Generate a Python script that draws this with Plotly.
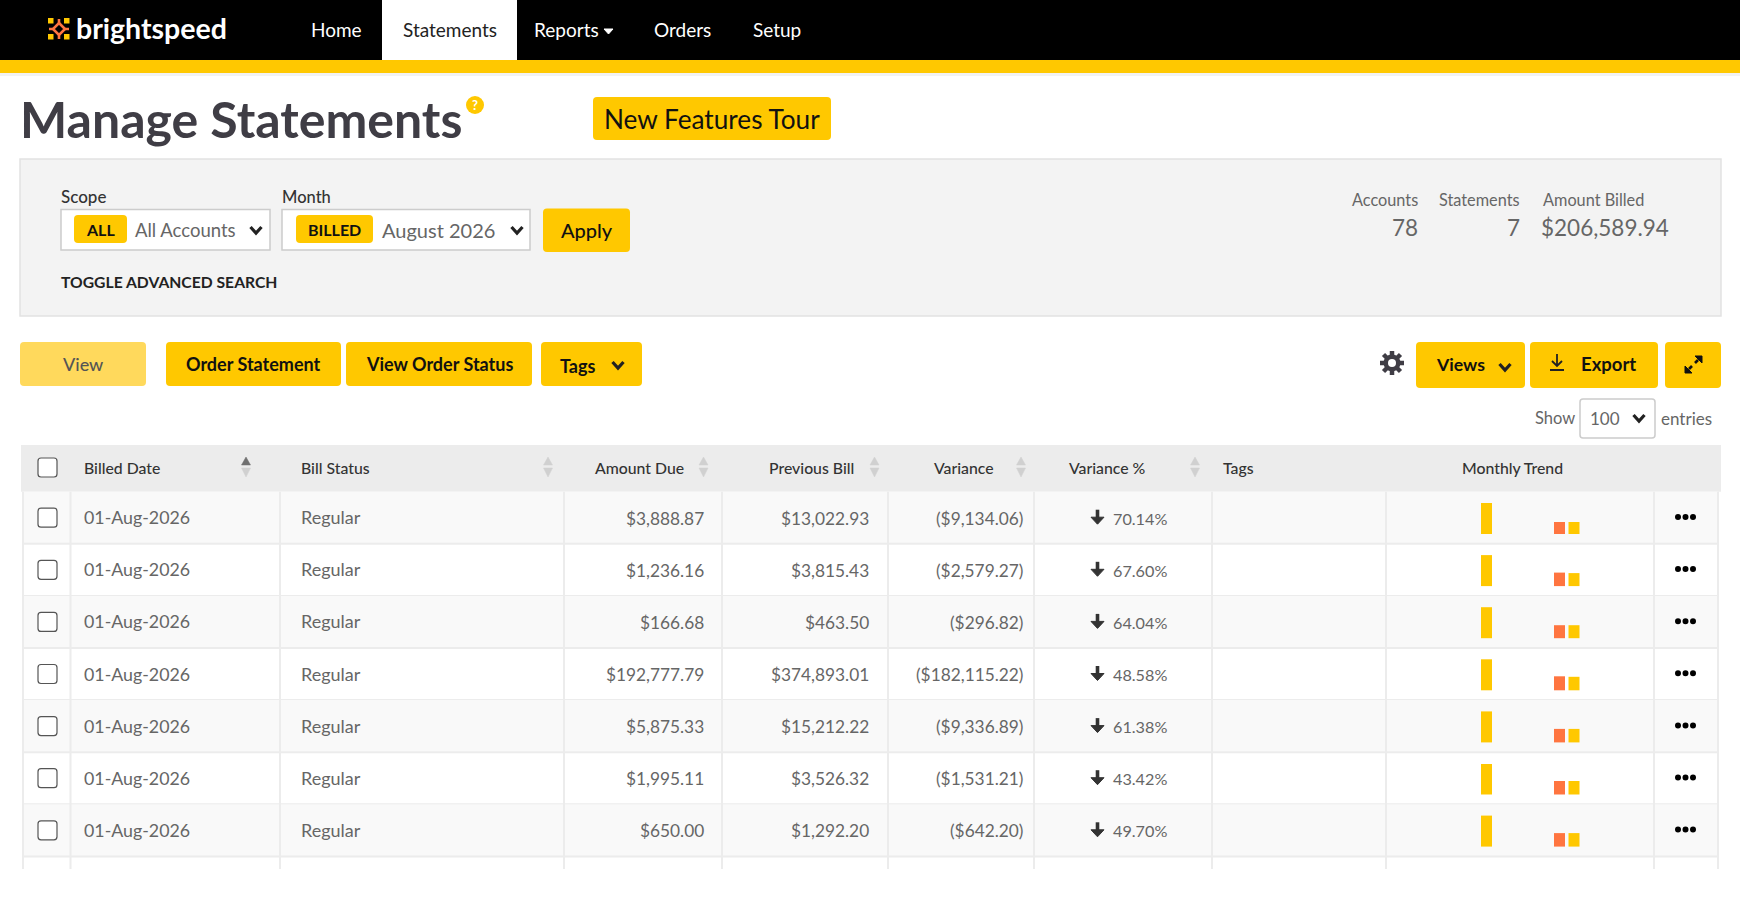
"""Manage Statements page, drawn on one pixel-sized Plotly axis."""

import plotly.graph_objects as go

# table data
billed_dates = ["01-Aug-2026"] * 7
bill_status = ["Regular"] * 7
amount_due = ["$3,888.87", "$1,236.16", "$166.68", "$192,777.79", "$5,875.33", "$1,995.11", "$650.00"]
previous_bill = ["$13,022.93", "$3,815.43", "$463.50", "$374,893.01", "$15,212.22", "$3,526.32", "$1,292.20"]
variance = ["($9,134.06)", "($2,579.27)", "($296.82)", "($182,115.22)", "($9,336.89)", "($1,531.21)", "($642.20)"]
variance_pct = ["70.14%", "67.60%", "64.04%", "48.58%", "61.38%", "43.42%", "49.70%"]

# monthly trend bars
trend_first = [31, 31, 31, 31, 31, 30.5, 31]
trend_second = [12, 13.5, 13, 14, 13.5, 13.5, 13.5]
trend_third = [12, 13, 13, 13.5, 13.5, 13.5, 13.5]

nav_labels = ["Home", "Statements", "Reports", "Orders", "Setup"]
summary_labels = ["Accounts", "Statements", "Amount Billed"]
summary_values = ["78", "7", "$206,589.94"]

YELLOW = "#ffc800"
ORANGE = "#ff7540"
DARK = "#3f3d45"
GREY_TEXT = "#666666"
FONT = "Lato"

W, H = 1740, 904
HEAD_TOP, HEAD_BOTTOM = 445, 491.7
ROW_H = 52.1
COL_LINES = [23, 70.5, 280, 564, 722, 888, 1034, 1212, 1386, 1654, 1718]

shapes = []
notes = []


def rect(x0, y0, x1, y1, fill, line=None, r=0, width=1):
    # rounded rectangle as an svg path
    path = (
        f"M{x0 + r},{y0} L{x1 - r},{y0} Q{x1},{y0} {x1},{y0 + r} L{x1},{y1 - r} Q{x1},{y1} {x1 - r},{y1} "
        f"L{x0 + r},{y1} Q{x0},{y1} {x0},{y1 - r} L{x0},{y0 + r} Q{x0},{y0} {x0 + r},{y0} Z"
    )
    shapes.append(dict(type="path", path=path, fillcolor=fill, layer="below",
                       line=dict(color=line or fill, width=width if line else 0)))


def stroke(path, color="#000000", width=2.5, fill=None):
    shapes.append(dict(type="path", path=path, layer="above", fillcolor=fill,
                       line=dict(color=color, width=width)))


def chevron(x, y, color="#222222", size=5.5):
    stroke(f"M{x - size},{y - size * 0.55} L{x},{y + size * 0.55} L{x + size},{y - size * 0.55}", color, 3.2)


def text(x, y, s, size=17.3, color=GREY_TEXT, anchor="left", weight=400, family=FONT):
    notes.append(dict(x=x, y=y, xref="x", yref="y", text=s, showarrow=False, xanchor=anchor, yanchor="middle",
                      align=anchor, font=dict(family=family, size=size, color=color, weight=weight),
                      borderpad=0, borderwidth=0))


def button(x0, x1, y0, y1, label=None, size=18, fill=YELLOW, color="#111111", weight=700):
    rect(x0, y0, x1, y1, fill, r=4)
    if label:
        text((x0 + x1) / 2, (y0 + y1) / 2, label, size, color, "center", weight)


# top bar
rect(0, 0, W, 60, "#000000")
rect(0, 60, W, 73, YELLOW)
rect(0, 73, W, 76, "#f2f2f2")
rect(382, 0, 517, 60, "#ffffff")
# logo
for (lx, ly) in [(48, 18), (64, 18), (48, 34), (64, 34)]:
    rect(lx, ly, lx + 5.5, ly + 5.5, YELLOW)
stroke("M59,23 L59,19 M59,35 L59,39 M53,29 L49,29 M65,29 L69,29", ORANGE, 2.6)
stroke("M59,23 L65,29 L59,35 L53,29 Z", ORANGE, 2.6)
text(76, 28, "brightspeed", 28.5, "#ffffff", weight=700)
nav_x = [336, 450, 566, 682, 777]
for i, lab in enumerate(nav_labels):
    text(nav_x[i], 29.5, lab, 19, "#222222" if lab == "Statements" else "#ffffff", "center")
stroke("M604,29 L613,29 L608.5,34 Z", "#ffffff", 1, "#ffffff")

# title
text(20, 119, "Manage Statements", 50, DARK, weight=700)
shapes.append(dict(type="circle", x0=466, y0=96, x1=484, y1=114, fillcolor=YELLOW, line=dict(width=0), layer="below"))
text(475, 105, "?", 13, "#ffffff", "center", 700)
button(593, 831, 97, 140, "New Features Tour", size=26.2, weight=400)

# search panel
rect(20, 159, 1721, 316, "#f3f3f3", "#e2e2e2", width=1.5)
text(61, 196.5, "Scope", 17, "#333333", weight=500)
text(282, 196.5, "Month", 16.5, "#333333", weight=500)
rect(61, 209.5, 270, 250, "#ffffff", "#cccccc", width=1.5)
rect(282, 209.5, 530, 250, "#ffffff", "#cccccc", width=1.5)
button(74, 127, 215, 243, "ALL", size=16)
button(296, 373, 215, 243, "BILLED", size=16)
text(135, 229.5, "All Accounts", 18.5)
text(382, 229.5, "August 2026", 20)
chevron(256, 230)
chevron(517, 230)
button(543, 630, 208.5, 252, "Apply", size=20, weight=500)
text(61, 281.5, "TOGGLE ADVANCED SEARCH", 15.7, "#222222", weight=700)
summary_right = [1418, 1520, 1669]
for i, lab in enumerate(summary_labels):
    text(1644 if i == 2 else summary_right[i], 199.5, lab, 16.3, GREY_TEXT, "right")
    text(summary_right[i], 227.5, summary_values[i], 22.5, GREY_TEXT, "right")

# toolbar
button(20, 146, 342, 386, "View", size=18, fill="#ffd95c", color="#555555", weight=500)
button(166, 341, 342, 386, "Order Statement", size=18)
button(346, 532, 342, 386, "View Order Status", size=18)
button(541, 642, 342, 386)
text(560, 366, "Tags", 18, "#111111", weight=700)
chevron(618, 365)
# gear
stroke("M1392,351 L1392,375 M1380,363 L1404,363 M1383.5,354.5 L1400.5,371.5 M1400.5,354.5 L1383.5,371.5", DARK, 4.5)
shapes.append(dict(type="circle", x0=1383.5, x1=1400.5, y0=354.5, y1=371.5, fillcolor=DARK, line=dict(width=0)))
shapes.append(dict(type="circle", x0=1388, x1=1396, y0=359, y1=367, fillcolor="#ffffff", line=dict(width=0)))
button(1416, 1525, 342, 388)
text(1436, 364.5, "Views", 17.7, "#111111", weight=700)
chevron(1505, 367)
button(1530, 1658, 342, 388)
stroke("M1557,354 L1557,366 M1552,361 L1557,366 L1562,361 M1550,370 L1564,370", "#222222", 1.8)
text(1581, 364, "Export", 18.5, "#111111", weight=700)
button(1665, 1721, 342, 388)
stroke("M1702,356 L1695,356 L1702,363 Z", "#111111", 1, "#111111")
stroke("M1698,360 L1695,363", "#111111", 2.6)
stroke("M1685,373 L1692,373 L1685,366 Z", "#111111", 1, "#111111")
stroke("M1689,369 L1692,366", "#111111", 2.6)
text(1535, 418, "Show", 16.5)
rect(1580, 399, 1655, 438, "#ffffff", "#cccccc", r=3, width=1.5)
text(1590, 418, "100", 17)
chevron(1639, 418)
text(1660.5, 418, "entries", 17)

# table header
rect(21, HEAD_TOP, 1721, HEAD_BOTTOM, "#ececec")
rect(38, 458, 57, 477, "#ffffff", "#555555", r=3, width=1.2)
headers = [
    ("Billed Date", 84, "left"), ("Bill Status", 301, "left"), ("Amount Due", 684, "right"),
    ("Previous Bill", 854, "right"), ("Variance", 994, "right"), ("Variance %", 1146, "right"),
    ("Tags", 1223, "left"), ("Monthly Trend", 1512, "center"),
]
for lab, x, anchor in headers:
    text(x, 467.5, lab, 15.8, "#333333", anchor, 500)
for j, x in enumerate([246, 548, 703.5, 874.5, 1021, 1195]):
    up = "#707070" if j == 0 else "#d0d0d0"
    stroke(f"M{x - 4.5},465 L{x + 4.5},465 L{x},457 Z", up, 0.5, up)
    stroke(f"M{x - 4.5},468 L{x + 4.5},468 L{x},477 Z", "#d0d0d0", 0.5, "#d0d0d0")

# table rows
n_rows = len(billed_dates)
row_tops = [HEAD_BOTTOM + ROW_H * i for i in range(n_rows)]
for i, top in enumerate(row_tops):
    if i % 2 == 0:
        rect(23, top, 1718, top + ROW_H, "#f9f9f9")
    mid = top + 26
    rect(38, mid - 9.5, 57, mid + 9.5, "#ffffff", "#555555", r=3, width=1.2)
    text(84, mid - 0.5, billed_dates[i], 17.8)
    text(301, mid - 0.5, bill_status[i], 18)
    text(703.5, mid + 0.5, amount_due[i], anchor="right")
    text(869, mid + 0.5, previous_bill[i], anchor="right")
    text(1023, mid + 0.5, variance[i], anchor="right")
    text(1113, mid + 0.5, variance_pct[i], size=16.2)
    # down arrow next to the percentage
    stroke(f"M1097.5,{mid - 8} L1097.5,{mid + 3}", "#333333", 3.6)
    stroke(f"M1091,{mid - 0.5} L1104,{mid - 0.5} L1097.5,{mid + 6.5} Z", "#333333", 1, "#333333")
    for dot_x in [1678, 1685.5, 1693]:
        shapes.append(dict(type="circle", x0=dot_x - 3, x1=dot_x + 3, y0=mid - 3.7, y1=mid + 2.3,
                           fillcolor="#000000", line=dict(width=0)))
    shapes.append(dict(type="line", x0=23, x1=1718, y0=top + ROW_H, y1=top + ROW_H, layer="below",
                       line=dict(color="#ececec", width=2)))
for x in COL_LINES:
    shapes.append(dict(type="line", x0=x, x1=x, y0=HEAD_BOTTOM, y1=869, layer="below",
                       line=dict(color="#ececec", width=2)))

fig = go.Figure()
bottoms = [top + 42.3 for top in row_tops]
for centre, values, colour, name in [
    (1486.5, trend_first, YELLOW, "first"),
    (1559.5, trend_second, ORANGE, "second"),
    (1574, trend_third, YELLOW, "third"),
]:
    fig.add_trace(
        go.Bar(
            x=[centre] * n_rows,
            y=[-v for v in values],
            base=bottoms,
            width=11,
            marker=dict(color=colour, line=dict(width=0)),
            name=name,
            showlegend=False,
            hoverinfo="skip",
        )
    )

fig.update_layout(
    width=W,
    height=H,
    margin=dict(l=0, r=0, t=0, b=0),
    paper_bgcolor="#ffffff",
    plot_bgcolor="#ffffff",
    barmode="overlay",
    hovermode=False,
    shapes=shapes,
    annotations=notes,
    showlegend=False,
    xaxis=dict(range=[0, W], visible=False, fixedrange=True),
    yaxis=dict(range=[H, 0], visible=False, fixedrange=True),
)

fig.write_html("out.html", config=dict(displayModeBar=False), post_script="document.body.style.margin='0';")
